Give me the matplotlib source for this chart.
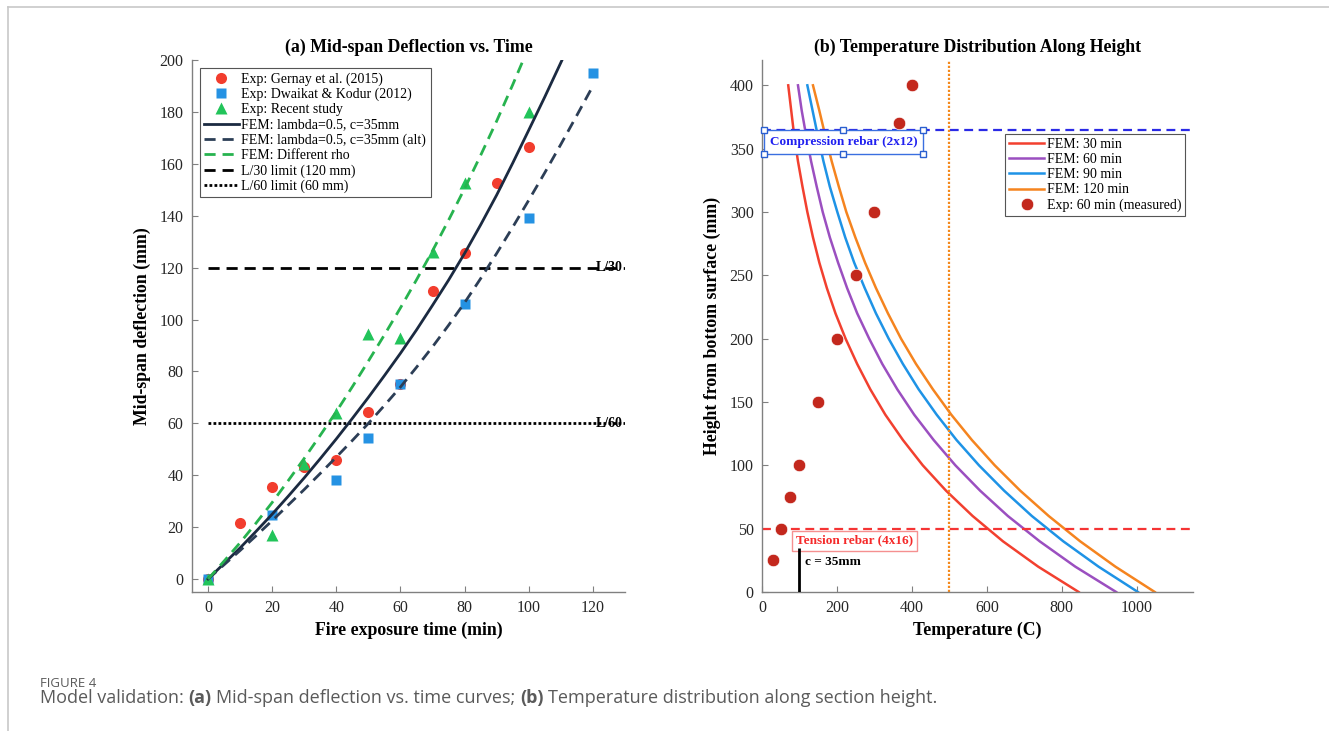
import matplotlib
matplotlib.use('Agg')
import matplotlib.pyplot as plt
from matplotlib.lines import Line2D

# (a) mid-span deflection tests, mm vs min
t_gernay = [0, 10, 20, 30, 40, 50, 60, 70, 80, 90, 100]
d_gernay = [0, 21.5, 35.5, 43, 46, 64.5, 75, 111, 125.5, 152.5, 166.5]
t_dwaikat = [0, 20, 40, 50, 60, 80, 100, 120]
d_dwaikat = [0, 24.5, 38, 54.5, 75, 106, 139, 195]
t_recent = [0, 20, 30, 40, 50, 60, 70, 80, 100]
d_recent = [0, 17, 44.5, 64, 94.5, 93, 126, 152.5, 180]

# FEM curves, sampled every 5 min
t_fem = [0, 5, 10, 15, 20, 25, 30, 35, 40, 45, 50, 55, 60, 65, 70, 75, 80, 85,
         90, 95, 100, 105, 110, 115, 120]
d_fem = [0, 6, 12, 18.4, 25, 31.9, 39, 46.4, 54, 61.9, 70, 78.4, 87, 96, 105.5,
         115.2, 125.5, 136.5, 148, 160.3, 173, 185.8, 199, 212.5, 226]
d_fem_alt = [0, 5.5, 11, 16.7, 22.5, 28.5, 34.5, 40.7, 47, 53.4, 60, 66.9, 74, 81.6,
             89.5, 97.8, 106.5, 115.8, 125.5, 135.6, 146, 156.6, 167.5, 178.7, 190]
t_rho = [0, 5, 10, 15, 20, 25, 30, 35, 40, 45, 50, 55, 60, 65, 70, 75, 80, 85,
         90, 95, 100]
d_rho = [0, 6.9, 14, 21.6, 29.5, 37.9, 46.5, 55.4, 64.5, 74.1, 84, 94.1, 104.5,
         115.3, 126.5, 138.3, 150.5, 163.3, 176.5, 190.5, 205]

limit_l30 = 120
limit_l60 = 60
t_end = 130

# (b) temperature along section height, every 20 mm
h_fem = [0, 20, 40, 60, 80, 100, 120, 140, 160, 180, 200, 220, 240, 260, 280,
         300, 320, 340, 360, 380, 400]
temp_30 = [845, 737, 643, 562, 491, 429, 376, 329, 289, 254, 223, 196, 173, 153,
           136, 121, 108, 96, 86, 78, 70]
temp_60 = [945, 836, 741, 656, 582, 516, 458, 406, 361, 321, 286, 254, 227, 203,
           181, 162, 146, 131, 118, 106, 96]
temp_90 = [1003, 898, 804, 720, 646, 579, 519, 466, 418, 376, 338, 304, 274, 246,
           222, 201, 181, 164, 149, 135, 121]
temp_120 = [1048, 943, 849, 765, 689, 621, 560, 505, 456, 411, 371, 336, 304, 275,
            249, 225, 205, 186, 169, 153, 136]
exp_temp = [30, 50, 75, 100, 150, 200, 250, 300, 365, 400]
exp_h = [25, 50, 75, 100, 150, 200, 250, 300, 370, 400]

h_compression = 365
h_tension = 50
cover = 35
t_cover = 100
temp_critical = 500

plt.rcParams['font.family'] = ['Liberation Serif', 'DejaVu Serif']

W, H = 1329, 731
fig = plt.figure(figsize=(W / 100, H / 100), dpi=100)
ax1 = fig.add_axes([192 / W, 1 - 592 / H, 433 / W, 532 / H])
ax2 = fig.add_axes([762 / W, 1 - 592 / H, 431 / W, 532 / H])

for ax in (ax1, ax2):
    ax.spines[['top', 'right']].set_visible(False)
    for s in ('left', 'bottom'):
        ax.spines[s].set_color('#808080')
        ax.spines[s].set_linewidth(1.0)
    ax.tick_params(direction='in', length=4, width=0.8, color='#808080',
                   labelsize=11.5, labelcolor='#262626', pad=6)

# ---- panel (a)
ax1.plot(t_gernay, d_gernay, ls='none', marker='o', ms=8, color='#f23d2e',
         mec='none', label='Exp: Gernay et al. (2015)', zorder=3)
ax1.plot(t_dwaikat, d_dwaikat, ls='none', marker='s', ms=6.5, color='#2592e3',
         mec='none', label='Exp: Dwaikat & Kodur (2012)', zorder=3)
ax1.plot(t_recent, d_recent, ls='none', marker='^', ms=9, color='#22c45a',
         mec='none', label='Exp: Recent study', zorder=3)
ax1.plot(t_fem, d_fem, color='#1b2a41', lw=2.0, label='FEM: lambda=0.5, c=35mm', zorder=4)
ax1.plot(t_fem, d_fem_alt, color='#2c3e56', lw=2.0, dashes=(4, 2.5),
         label='FEM: lambda=0.5, c=35mm (alt)', zorder=4)
ax1.plot(t_rho, d_rho, color='#27b34f', lw=2.0, dashes=(4, 2.5),
         label='FEM: Different rho', zorder=4)
ax1.hlines(limit_l30, 0, t_end, color='black', lw=2.0, linestyles=(0, (4, 2.5)),
           label='L/30 limit (120 mm)', zorder=2)
ax1.hlines(limit_l60, 0, t_end, color='black', lw=2.0, linestyles=(0, (1, 0.8)),
           label='L/60 limit (60 mm)', zorder=2)
ax1.text(121, limit_l30, 'L/30', fontsize=10, weight='bold', va='center', ha='left', zorder=1)
ax1.text(121, limit_l60, 'L/60', fontsize=10, weight='bold', va='center', ha='left', zorder=1)

ax1.set_xlim(-5, 130)
ax1.set_ylim(-5, 200)
ax1.set_xticks(range(0, 121, 20))
ax1.set_yticks(range(0, 201, 20))
ax1.set_title('(a) Mid-span Deflection vs. Time', fontsize=12.8, weight='bold', pad=6)
ax1.set_xlabel('Fire exposure time (min)', fontsize=12.8, weight='bold', labelpad=4)
ax1.set_ylabel('Mid-span deflection (mm)', fontsize=12.8, weight='bold', labelpad=6)
leg1 = ax1.legend(loc='upper left', bbox_to_anchor=(0.018, 0.985), borderaxespad=0,
                  fontsize=10, frameon=True, fancybox=False, framealpha=1,
                  edgecolor='#555555', handlelength=2.5, handletextpad=0.2,
                  labelspacing=0.15, borderpad=0.3)
leg1.get_frame().set_linewidth(0.8)

# ---- panel (b)
ax2.plot(temp_30, h_fem, color='#f2402f', lw=1.8, label='FEM: 30 min')
ax2.plot(temp_60, h_fem, color='#9b4fc0', lw=1.8, label='FEM: 60 min')
ax2.plot(temp_90, h_fem, color='#1e93e6', lw=1.8, label='FEM: 90 min')
ax2.plot(temp_120, h_fem, color='#f5841f', lw=1.8, label='FEM: 120 min')
ax2.plot(exp_temp, exp_h, ls='none', marker='o', ms=9, color='#c3281d',
         mec='white', mew=0.5, label='Exp: 60 min (measured)', zorder=4)
ax2.axhline(h_compression, color='#2a2ae6', lw=1.6, dashes=(4, 2.5))
ax2.axhline(h_tension, color='#f53434', lw=1.6, dashes=(4, 2.5))
ax2.axvline(temp_critical, color='#f5891c', lw=1.6, ls=(0, (1, 0.8)))
ax2.vlines(t_cover, 0, cover, color='black', lw=2.0, zorder=5)
ax2.text(t_cover + 15, cover - 11, 'c = 35mm', fontsize=9.5, weight='bold', va='center')

comp = ax2.text(217, 355, 'Compression rebar (2x12)', fontsize=9.5, weight='bold',
                color='#2020f0', ha='center', va='center',
                bbox=dict(boxstyle='square,pad=0.45', fc='white', ec='#3a6fe0', lw=1.0))
ax2.text(246, 40.5, 'Tension rebar (4x16)', fontsize=9.5, weight='bold',
         color='#f52a2a', ha='center', va='center',
         bbox=dict(boxstyle='square,pad=0.3', fc='white', ec='#f59090', lw=1.0))

ax2.set_xlim(0, 1150)
ax2.set_ylim(0, 420)
ax2.set_xticks(range(0, 1001, 200))
ax2.set_yticks(range(0, 401, 50))
ax2.set_title('(b) Temperature Distribution Along Height', fontsize=12.8, weight='bold', pad=6)
ax2.set_xlabel('Temperature (C)', fontsize=12.8, weight='bold', labelpad=4)
ax2.set_ylabel('Height from bottom surface (mm)', fontsize=12.8, weight='bold', labelpad=6)
leg2 = ax2.legend(loc='upper left', bbox_to_anchor=(0.564, 0.861), borderaxespad=0,
                  fontsize=10, frameon=True, fancybox=False, framealpha=1,
                  edgecolor='#555555', handlelength=2.5, handletextpad=0.2,
                  labelspacing=0.15, borderpad=0.3)
leg2.get_frame().set_linewidth(0.8)

# edit handles around the compression label box
fig.canvas.draw()
r = fig.canvas.get_renderer()
bb = comp.get_bbox_patch().get_window_extent(r).transformed(fig.transFigure.inverted())
hx = [bb.x0, (bb.x0 + bb.x1) / 2, bb.x1] * 2
hy = [bb.y1] * 3 + [bb.y0] * 3
fig.add_artist(Line2D(hx, hy, transform=fig.transFigure, ls='none', marker='s', ms=5,
                      mfc='white', mec='#2a5fd0', mew=1.0, zorder=10))

# page frame
fig.add_artist(Line2D([8 / W, 1], [1 - 7 / H] * 2, color='#c8c8c8', lw=1.2))
fig.add_artist(Line2D([8 / W] * 2, [0, 1 - 7 / H], color='#c8c8c8', lw=1.2))

# caption
cap = dict(family=['Open Sans', 'DejaVu Sans'], color='#5a5a5a')
fig.text(40 / W, 1 - 687 / H, 'FIGURE 4', fontsize=9.5, va='baseline', **cap)


def width_of(s, size, weight):
    t = fig.text(0, 0, s, fontsize=size, weight=weight, **cap)
    w = t.get_window_extent(r).width
    t.remove()
    return w


parts = [('Model validation:', 'normal', True), ('(a)', 'bold', True),
         ('Mid-span deflection vs. time curves;', 'normal', True), ('(b)', 'bold', True),
         ('Temperature distribution along section height.', 'normal', False)]
size = 13
space = width_of('a a', size, 'normal') - width_of('aa', size, 'normal')
x = 40
for s, wt, sp in parts:
    fig.text(x / W, 1 - 703 / H, s, fontsize=size, weight=wt, va='baseline', **cap)
    x += width_of(s, size, wt) + (space if sp else 0)

fig.savefig('out.png', dpi=100)
